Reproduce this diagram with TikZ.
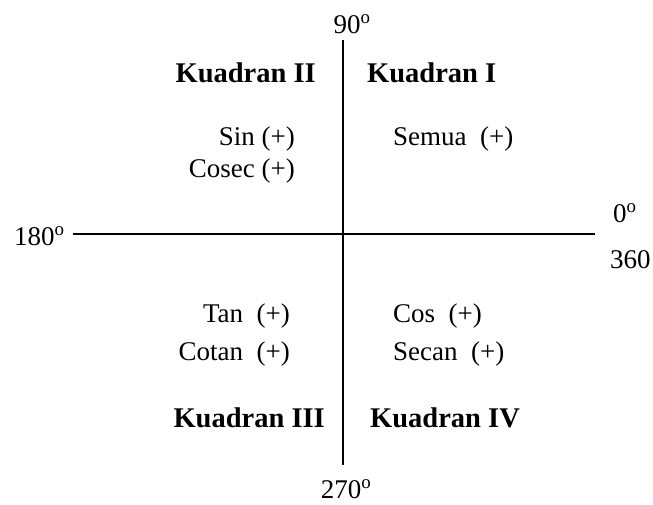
\documentclass[tikz,border=0pt]{standalone}
\usepackage{fontspec}
\setmainfont{Liberation Serif}
\usetikzlibrary{positioning}

\begin{document}
\begin{tikzpicture}[
            x=1pt, y=-1pt,
            lbl/.style={inner sep=0pt, font=\fontsize{27}{30}\selectfont},
            quad/.style={inner sep=0pt, font=\fontsize{28.5}{32}\selectfont\bfseries},
            axis/.style={line width=1.6pt}
        ]
            \useasboundingbox (0,0) rectangle (653,504);

            % axes
            \coordinate (top) at (343,40);
            \coordinate (bottom) at (343,465);
            \coordinate (left) at (73,234);
            \coordinate (right) at (595,234);
            \draw[axis] (top) -- (bottom);
            \draw[axis] (left) -- (right);

            % angles
            \node[lbl, anchor=base] (deg90) at (352,33) {90\textsuperscript{o}};
            \node[lbl, anchor=base] (deg270) at (346,498) {270\textsuperscript{o}};
            \node[lbl, anchor=base west] (deg180) at (14,245) {180\textsuperscript{o}};
            \node[lbl, anchor=base west] (deg0) at (613,222) {0\textsuperscript{o}};
            \node[lbl, anchor=base west] (deg360) at (610,268) {360};

            % quadrant names
            \node[quad, anchor=base east] (q2) at (316,82) {Kuadran II};
            \node[quad, anchor=base west] (q1) at (367,82) {Kuadran I};
            \node[quad, anchor=base east] (q3) at (325,427) {Kuadran III};
            \node[quad, anchor=base west] (q4) at (370,427) {Kuadran IV};

            % signs
            \node[lbl, anchor=base east] (sin) at (295,145) {Sin (+)};
            \node[lbl, anchor=base east] (cosec) at (295,177) {Cosec (+)};
            \node[lbl, anchor=base west] (semua) at (393,145) {Semua\ \ (+)};
            \node[lbl, anchor=base east] (tan) at (290,322) {Tan\ \ (+)};
            \node[lbl, anchor=base east] (cotan) at (290,360) {Cotan\ \ (+)};
            \node[lbl, anchor=base west] (cos) at (393,322) {Cos\ \ (+)};
            \node[lbl, anchor=base west] (secan) at (393,360) {Secan\ \ (+)};
        \end{tikzpicture}
\end{document}
